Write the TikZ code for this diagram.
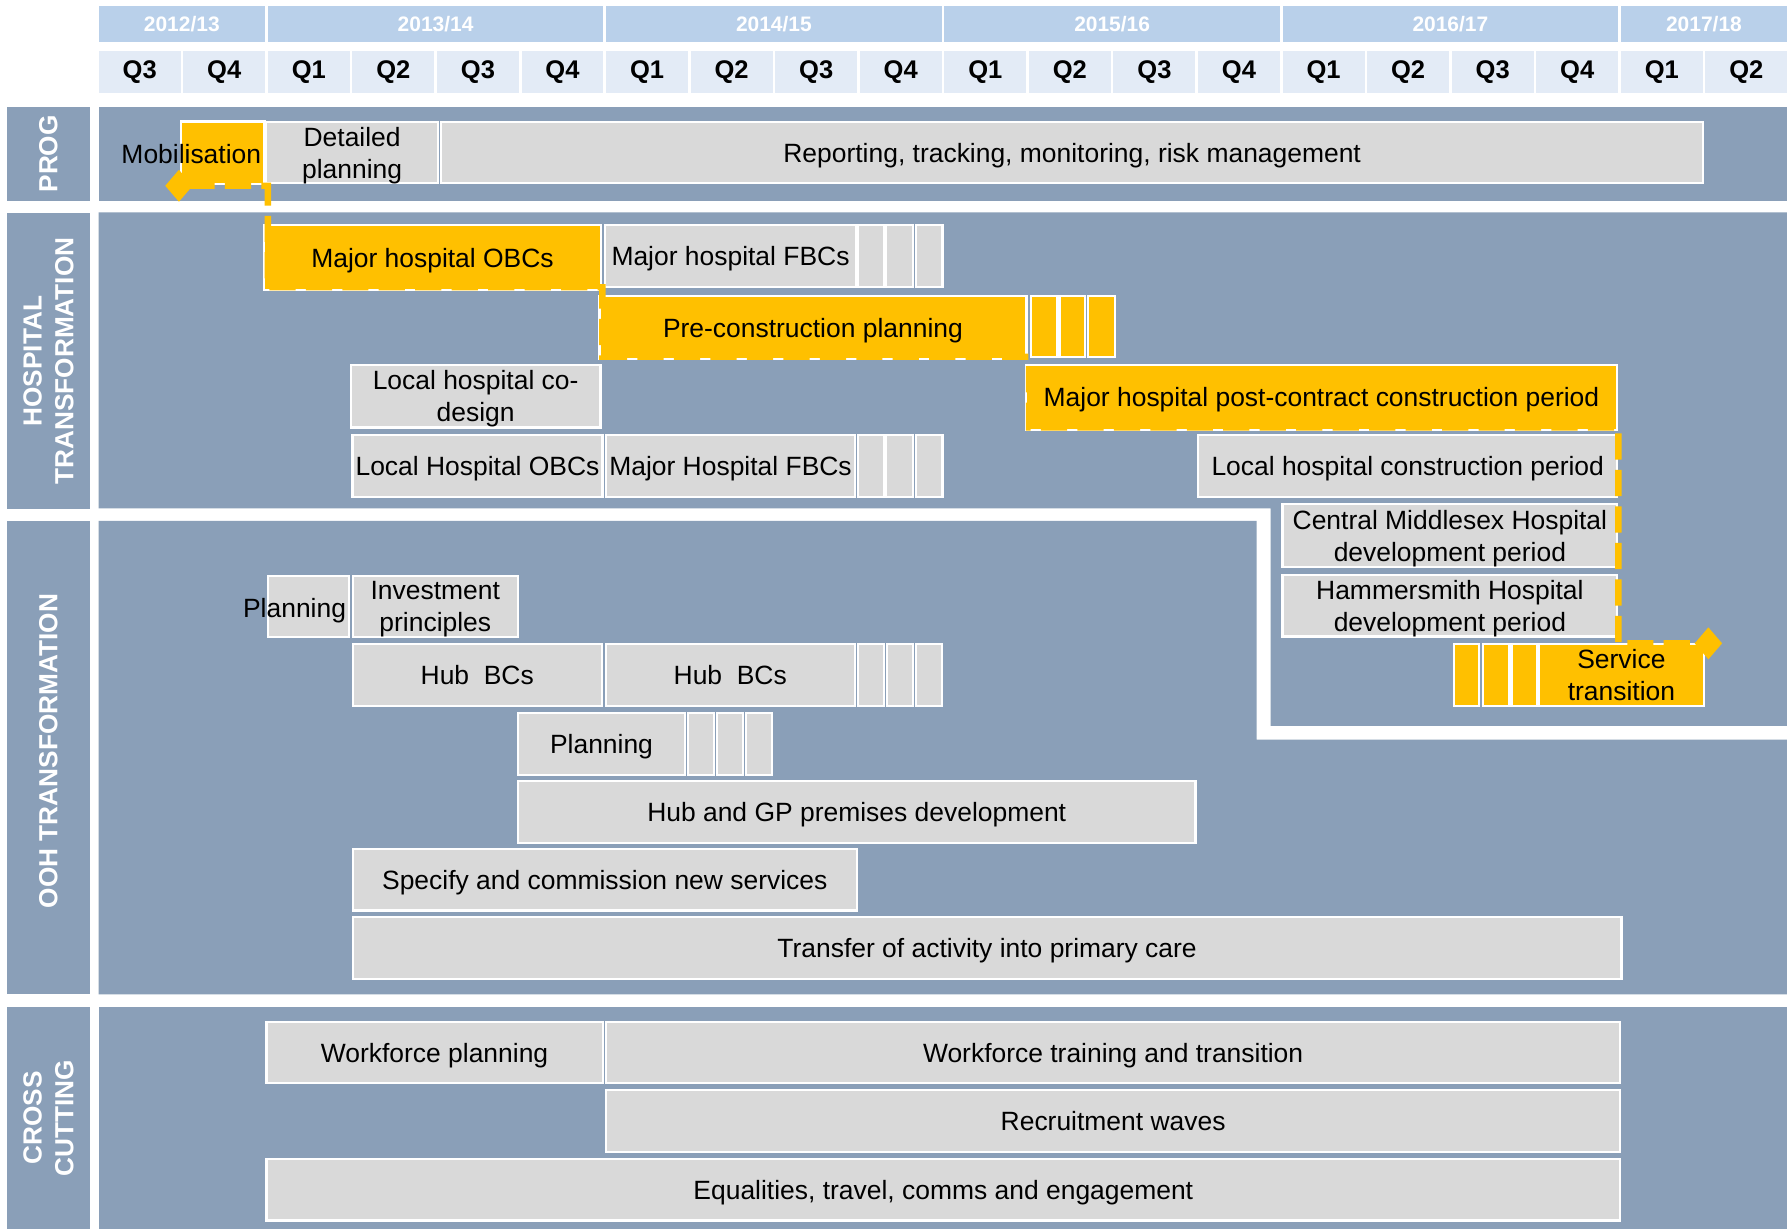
\documentclass[tikz,border=0pt]{standalone}
\usepackage{fontspec}
\setmainfont{Liberation Sans}
\usetikzlibrary{arrows.meta,calc}

\definecolor{bandc}{HTML}{8A9FB8}
\definecolor{yearc}{HTML}{B9D0EA}
\definecolor{qc}{HTML}{E3EBF6}
\definecolor{boxc}{HTML}{D9D9D9}
\definecolor{orc}{HTML}{FFC000}

\tikzset{
  bar/.style={draw=white, line width=1pt, inner sep=0pt, outer sep=0pt, align=center,
    text depth=0pt, font={\fontsize{11.6pt}{14pt}\selectfont}, text=black},
  gbar/.style={bar, fill=boxc},
  obar/.style={bar, fill=orc},
  freetext/.style={inner sep=0pt, text depth=0pt, font={\fontsize{11.6pt}{14pt}\selectfont}, text=black},
  yearcell/.style={fill=yearc, inner sep=0pt, outer sep=0pt, text=white,
    font={\fontsize{9.2pt}{11pt}\selectfont\bfseries}},
  qcell/.style={fill=qc, inner sep=0pt, outer sep=0pt, text=black,
    font={\fontsize{11.2pt}{13pt}\selectfont\bfseries}},
  sect/.style={fill=bandc, inner sep=0pt, outer sep=0pt, text=white, align=center, rotate=90,
    font={\fontsize{11.5pt}{14pt}\selectfont\bfseries}},
  crit/.style={draw=orc, line width=2.8pt, dash pattern=on 11.5pt off 4.5pt,
    >={Diamond[length=12pt,width=14pt]}, <->},
}

% box from (x1,y1) to (x2,y2), y grows downwards
\newcommand\putbar[7]{\node[#1, anchor=north west,
  minimum width={(#5-#3)*0.5pt}, minimum height={(#6-#4)*0.5pt}] (#2) at (#3,#4) {#7};}

\begin{document}
\begin{tikzpicture}[x=0.5pt,y=-0.5pt]
\useasboundingbox (0,0) rectangle (1568,1078);
\fill[white] (0,0) rectangle (1568,1078);

% ---- timeline header ----
\putbar{yearcell}{y1}{86.6}{5.3}{232.4}{36.6}{2012/13}
\putbar{yearcell}{y2}{235}{5.3}{529.5}{36.6}{2013/14}
\putbar{yearcell}{y3}{531.8}{5.3}{826.3}{36.6}{2014/15}
\putbar{yearcell}{y4}{828.6}{5.3}{1123.1}{36.6}{2015/16}
\putbar{yearcell}{y5}{1125.4}{5.3}{1419.9}{36.6}{2016/17}
\putbar{yearcell}{y6}{1422.2}{5.3}{1568}{36.6}{2017/18}
\foreach \q [count=\i from 0] in {Q3,Q4,Q1,Q2,Q3,Q4,Q1,Q2,Q3,Q4,Q1,Q2,Q3,Q4,Q1,Q2,Q3,Q4,Q1,Q2}
  \node[qcell, anchor=north west, minimum width=35.95pt, minimum height=18.3pt]
    (q\i) at ({86.6+74.2*\i},44.7) {\q};

% ---- section bands ----
\fill[bandc] (86.6,93.6) rectangle (1568,176.4);
\fill[bandc] (86.6,186.3) -- (1568,186.3) -- (1568,637) -- (1115,637) -- (1115,446) -- (86.6,446) -- cycle;
\fill[bandc] (86.6,457) -- (1102.5,457) -- (1102.5,649) -- (1568,649) -- (1568,872.6) -- (86.6,872.6) -- cycle;
\fill[bandc] (86.6,884) rectangle (1568,1078);

\node[sect, minimum width=41.4pt, minimum height=36.5pt] (lprog) at (42.5,135) {PROG};
\node[sect, minimum width=130.2pt, minimum height=36.5pt] (lhosp) at (42.5,316.8) {HOSPITAL\\TRANSFORMATION};
\fill[bandc] (6,457.5) rectangle (79,872.6);
\node[sect, fill=none] (looh) at (42.5,659) {OOH TRANSFORMATION};
\node[sect, minimum width=97pt, minimum height=36.5pt] (lcross) at (42.5,981) {CROSS\\CUTTING};

% ---- programme ----
\putbar{obar}{mob}{159}{106.5}{232}{161.5}{}
\node[freetext, anchor=east] (mobt) at (229.5,135) {Mobilisation};
\putbar{gbar}{detp}{233.5}{106.8}{384.5}{160.8}{Detailed\\planning}
\putbar{gbar}{rep}{387}{106.8}{1494.5}{160.8}{Reporting, tracking, monitoring, risk management}

% ---- hospital transformation ----
\putbar{obar}{obc}{231.5}{197.4}{527.5}{254.5}{Major hospital OBCs}
\putbar{gbar}{fbca}{531}{197.4}{751}{252}{Major hospital FBCs}
\putbar{gbar}{fbcaa}{752.7}{197.4}{776}{252}{}
\putbar{gbar}{fbcab}{777.7}{197.4}{801}{252}{}
\putbar{gbar}{fbcac}{803.5}{197.4}{827}{252}{}

\putbar{obar}{pre}{526}{259.7}{900.6}{315.3}{Pre-construction planning}
\putbar{obar}{prea}{904.4}{259.7}{927.3}{313.5}{}
\putbar{obar}{preb}{929.7}{259.7}{952.3}{313.5}{}
\putbar{obar}{prec}{954.8}{259.7}{978.3}{313.5}{}

\putbar{gbar}{lcd}{307.7}{320.3}{527}{375}{Local hospital co-\\design}
\putbar{obar}{mpc}{900}{320.3}{1419}{377}{Major hospital post-contract construction period}

\putbar{gbar}{lobc}{309.4}{381.7}{528.6}{435.8}{Local Hospital OBCs}
\putbar{gbar}{fbcb}{531.5}{381.7}{750.5}{435.8}{Major Hospital FBCs}
\putbar{gbar}{fbcba}{752.7}{381.7}{776}{435.8}{}
\putbar{gbar}{fbcbb}{777.7}{381.7}{801}{435.8}{}
\putbar{gbar}{fbcbc}{803.5}{381.7}{827}{435.8}{}
\putbar{gbar}{lhc}{1051.4}{381.7}{1419}{435.8}{Local hospital construction period}

\putbar{gbar}{cmh}{1125.4}{442.5}{1419}{497.2}{Central Middlesex Hospital\\development period}
\putbar{gbar}{hh}{1125.4}{504.5}{1419}{558.6}{Hammersmith Hospital\\development period}

\putbar{obar}{sta}{1276}{565}{1298}{619.5}{}
\putbar{obar}{stb}{1301}{565}{1324.5}{619.5}{}
\putbar{obar}{stc}{1326.6}{565}{1348.7}{619.5}{}
\putbar{obar}{st}{1350}{565}{1495.4}{619.5}{Service\\transition}

% ---- out of hospital transformation ----
\putbar{gbar}{plana}{235}{505.4}{306.2}{559.2}{}
\node[freetext, anchor=east] (planat) at (304,533) {Planning};
\putbar{gbar}{inv}{309.6}{505.4}{454.3}{559.2}{Investment\\principles}

\putbar{gbar}{huba}{309.5}{565}{528}{619.5}{Hub\ \ BCs}
\putbar{gbar}{hubb}{531.5}{565}{750}{619.5}{Hub\ \ BCs}
\putbar{gbar}{hubba}{752.8}{565}{775.8}{619.5}{}
\putbar{gbar}{hubbb}{778.1}{565}{801.4}{619.5}{}
\putbar{gbar}{hubbc}{803.8}{565}{826.7}{619.5}{}

\putbar{gbar}{planb}{454.4}{625.3}{601.2}{680}{Planning}
\putbar{gbar}{planba}{603.7}{625.3}{626.5}{680}{}
\putbar{gbar}{planbb}{629}{625.3}{652}{680}{}
\putbar{gbar}{planbc}{654.6}{625.3}{677.6}{680}{}

\putbar{gbar}{hgp}{454.4}{685.3}{1049}{739.4}{Hub and GP premises development}
\putbar{gbar}{spec}{309.5}{745.2}{751.8}{799}{Specify and commission new services}
\putbar{gbar}{trans}{309.5}{804.9}{1422.7}{859}{Transfer of activity into primary care}

% ---- cross cutting ----
\putbar{gbar}{wfp}{233.8}{896.5}{528.8}{950.5}{Workforce planning}
\putbar{gbar}{wft}{531.8}{896.5}{1421.6}{950.5}{Workforce training and transition}
\putbar{gbar}{rec}{531.8}{956.4}{1421.6}{1011.1}{Recruitment waves}
\putbar{gbar}{eq}{233.8}{1017}{1421.6}{1071}{Equalities, travel, comms and engagement}

% ---- critical path ----
\coordinate (c0) at ($(mob.south west)+(-14,1.5)$);
\coordinate (c1) at ($(mob.south east)+(3,1.5)$);
\coordinate (c2) at ($(obc.south west)+(3.5,-2.5)$);
\coordinate (c3) at ($(obc.south east)+(1,-2.5)$);
\coordinate (c4) at ($(pre.south west)+(2.5,-2.3)$);
\coordinate (c5) at ($(pre.south east)+(2.4,-2.3)$);
\coordinate (c6) at ($(mpc.south west)+(3,-2)$);
\coordinate (c7) at ($(mpc.south east)+(1,-2)$);
\coordinate (c8) at ($(st.north west)+(70,-0.5)$);
\coordinate (c9) at ($(st.north east)+(15.6,-0.5)$);
\draw[crit] (c0) -- (c1) -- (c2) -- (c3) -- (c4) -- (c5) -- (c6) -- (c7) -- (c8) -- (c9);
\end{tikzpicture}
\end{document}
